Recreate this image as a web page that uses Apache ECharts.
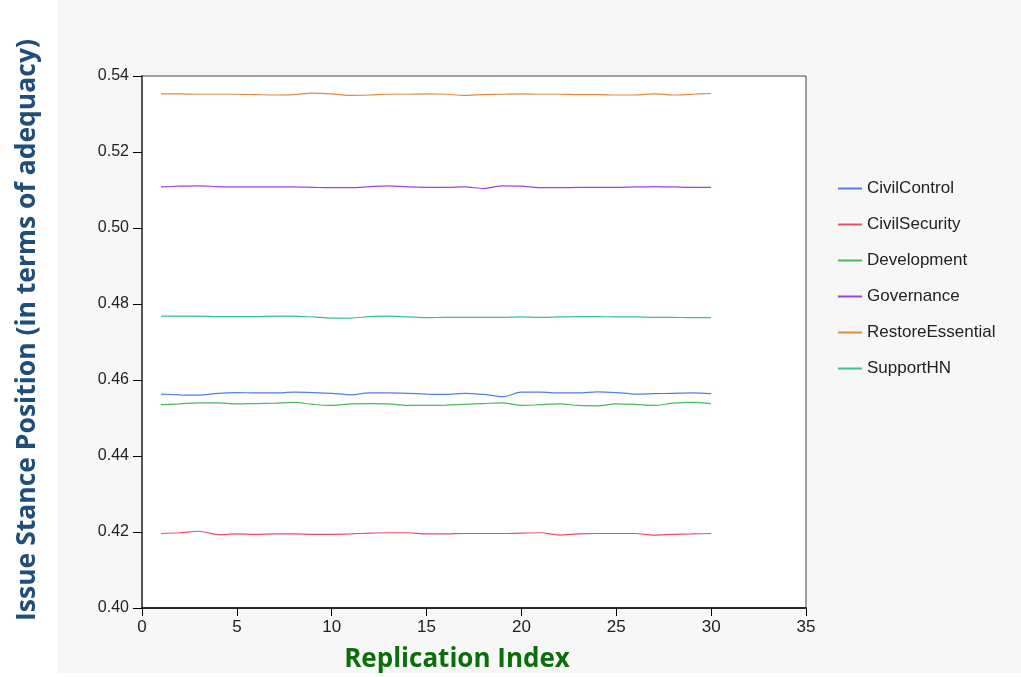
<!DOCTYPE html>
<html>
<head>
<meta charset="utf-8">
<script src="https://cdn.jsdelivr.net/npm/echarts@6/dist/echarts.min.js"></script>
<style>html,body{margin:0;padding:0;background:#fff}#c{width:1021px;height:677px}</style>
</head>
<body>
<div id="c"></div>
<script>
const replication = [1,2,3,4,5,6,7,8,9,10,11,12,13,14,15,16,17,18,19,20,21,22,23,24,25,26,27,28,29,30];
const seriesNames = ['CivilControl','CivilSecurity','Development','Governance','RestoreEssential','SupportHN'];
const civilControl = [0.4563,0.4561,0.4560,0.4565,0.4567,0.4566,0.4566,0.4568,0.4567,0.4565,0.4561,0.4566,0.4566,0.4565,0.4563,0.4562,0.4565,0.4562,0.4556,0.4568,0.4568,0.4566,0.4566,0.4569,0.4567,0.4563,0.4564,0.4565,0.4566,0.4564];
const civilSecurity = [0.4196,0.4198,0.4202,0.4193,0.4195,0.4194,0.4195,0.4195,0.4194,0.4194,0.4195,0.4197,0.4198,0.4198,0.4195,0.4195,0.4196,0.4196,0.4196,0.4197,0.4198,0.4192,0.4195,0.4196,0.4196,0.4196,0.4192,0.4194,0.4195,0.4196];
const development = [0.4535,0.4537,0.4540,0.4540,0.4537,0.4538,0.4539,0.4541,0.4536,0.4533,0.4537,0.4538,0.4537,0.4533,0.4533,0.4534,0.4536,0.4538,0.4540,0.4533,0.4535,0.4537,0.4533,0.4532,0.4537,0.4536,0.4533,0.4539,0.4541,0.4538];
const governance = [0.5108,0.5110,0.5111,0.5109,0.5108,0.5108,0.5108,0.5108,0.5107,0.5106,0.5106,0.5109,0.5111,0.5108,0.5107,0.5107,0.5108,0.5104,0.5111,0.5110,0.5106,0.5106,0.5107,0.5107,0.5107,0.5108,0.5109,0.5108,0.5107,0.5107];
const restoreEssential = [0.5353,0.5353,0.5352,0.5352,0.5352,0.5351,0.5350,0.5351,0.5355,0.5353,0.5349,0.5350,0.5352,0.5352,0.5353,0.5352,0.5349,0.5351,0.5352,0.5353,0.5352,0.5352,0.5351,0.5351,0.5350,0.5350,0.5353,0.5350,0.5352,0.5354];
const supportHN = [0.4768,0.4768,0.4768,0.4767,0.4767,0.4767,0.4768,0.4768,0.4766,0.4763,0.4763,0.4767,0.4768,0.4766,0.4764,0.4765,0.4765,0.4765,0.4765,0.4766,0.4765,0.4766,0.4767,0.4767,0.4766,0.4766,0.4765,0.4765,0.4764,0.4764];
const allValues = [civilControl, civilSecurity, development, governance, restoreEssential, supportHN];
const colors = ['#4f7fe6','#e8506a','#4cb860','#a040e0','#e08a40','#3cbf95'];
const yTitle = 'Issue Stance Position (in terms of adequacy)';
const xTitle = 'Replication Index';

const chart = echarts.init(document.getElementById('c'));
chart.setOption({
  animation: false,
  backgroundColor: '#ffffff',
  graphic: [{
    type: 'rect', z: -10, silent: true,
    shape: {x: 58, y: 0, width: 963, height: 673},
    style: {fill: '#f7f7f7'}
  }, {
    type: 'text', x: 27, y: 330, rotation: Math.PI / 2, silent: true,
    style: {text: yTitle, fontFamily: 'Open Sans', fontWeight: 'bold', fontSize: 26.5, fill: '#1f4e79', align: 'center', verticalAlign: 'middle'}
  }, {
    type: 'text', x: 457, y: 660, silent: true,
    style: {text: xTitle, fontFamily: 'Open Sans', fontWeight: 'bold', fontSize: 26, fill: '#0b6e0b', align: 'center', verticalAlign: 'middle'}
  }],
  grid: {left: 142, top: 76, right: 215, bottom: 69, show: true, backgroundColor: '#ffffff', borderColor: '#444', borderWidth: 1},
  legend: {
    orient: 'vertical', left: 832, top: 175,
    itemWidth: 24, itemHeight: 18, itemGap: 19,
    itemStyle: {opacity: 0},
    textStyle: {fontFamily: 'Liberation Sans', fontSize: 17, color: '#222'},
    data: seriesNames
  },
  xAxis: {
    type: 'value', min: 0, max: 35, interval: 5,
    axisLine: {show: true, lineStyle: {color: '#000', width: 1.5}},
    axisTick: {show: true, length: 8, lineStyle: {color: '#000'}},
    axisLabel: {fontFamily: "'Liberation Sans Narrow', 'Liberation Sans'", fontSize: 17, color: '#222', margin: 11},
    splitLine: {show: false}
  },
  yAxis: {
    type: 'value', min: 0.40, max: 0.54, interval: 0.02,
    axisLine: {show: true, lineStyle: {color: '#555', width: 2}},
    axisTick: {show: true, length: 9, lineStyle: {color: '#000'}},
    axisLabel: {fontFamily: 'Liberation Sans', fontSize: 16, color: '#222', margin: 13, formatter: v => v.toFixed(2)},
    splitLine: {show: false}
  },
  series: seriesNames.map((n, i) => ({
    name: n, type: 'line', symbol: 'none', smooth: 0.3,
    lineStyle: {width: 1.2, color: colors[i]},
    itemStyle: {color: colors[i]},
    data: replication.map((x, j) => [x, allValues[i][j]])
  }))
});
</script>
</body>
</html>
